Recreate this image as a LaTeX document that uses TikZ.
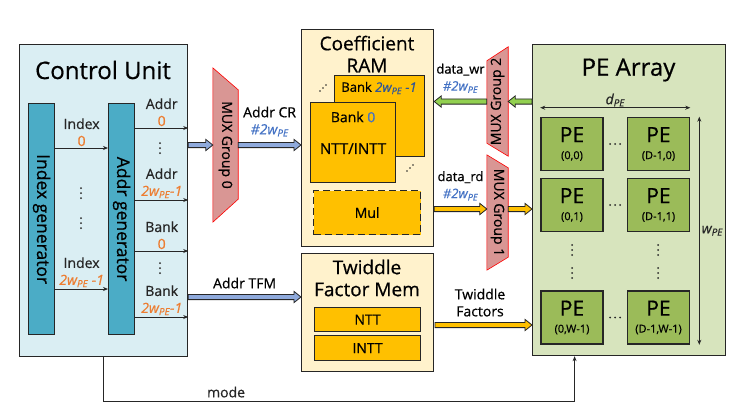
\documentclass[tikz,border=0pt]{standalone}
\usepackage{fontspec}
\setmainfont{Open Sans}[UprightFeatures={FakeBold=0.6}, ItalicFeatures={FakeBold=0.6}]
\usepackage{graphicx}
\usepackage{tikz}
\usetikzlibrary{arrows.meta,positioning,calc,backgrounds}
\definecolor{ink}{HTML}{262626}
\definecolor{cufill}{HTML}{DAEEF3}
\definecolor{genfill}{HTML}{4BACC6}
\definecolor{muxfill}{HTML}{D99694}
\definecolor{memfill}{HTML}{FFF2CC}
\definecolor{bankfill}{HTML}{FFC000}
\definecolor{peafill}{HTML}{D7E4BD}
\definecolor{pefill}{HTML}{9BBB59}
\definecolor{orn}{HTML}{ED7D31}
\definecolor{wblue}{HTML}{4472C4}
\definecolor{dblue}{HTML}{2F5597}
\definecolor{busblue}{HTML}{8FAADC}
\definecolor{busgreen}{HTML}{92D050}
\tikzset{cubox/.style={draw=ink, line width=1.2pt, fill=cufill, inner sep=0pt,
    anchor=north west},
  genbar/.style={draw=ink, line width=1.2pt, fill=genfill, inner sep=0pt,
    anchor=north west, minimum width=26pt, minimum height=231pt,
    font=\fontsize{17.5}{20}\selectfont},
  membox/.style={draw=ink, line width=1.2pt, fill=memfill, inner sep=0pt,
    anchor=north west, minimum width=132pt},
  bankbox/.style={draw=ink, line width=1.2pt, fill=bankfill, inner sep=0pt,
    anchor=north west},
  pebox/.style={draw=ink, line width=1.6pt, fill=pefill, inner sep=0pt,
    minimum width=62pt, minimum height=53pt, align=center},
  muxtxt/.style={inner sep=0pt},
  muxshape/.style={fill=muxfill, draw=red, line width=0.6pt},
  ttl/.style={font=\fontsize{24}{28}\selectfont},
  subttl/.style={font=\fontsize{19}{22}\selectfont, align=center},
  lbl/.style={midway, above, align=center, inner sep=1.5pt},
  sig/.style={line width=0.8pt, ink, -{Stealth[length=5pt, width=4pt]}}}
\newcommand\busarrow[3]{\filldraw[fill=#1, draw=ink, line width=0.8pt]
  ($(#2)+(0,2.6pt)$) -- ($(#3)!7pt!(#2)+(0,2.6pt)$)
  -- ($(#3)!7pt!(#2)+(0,5.6pt)$) -- (#3)
  -- ($(#3)!7pt!(#2)+(0,-5.6pt)$) -- ($(#3)!7pt!(#2)+(0,-2.6pt)$)
  -- ($(#2)+(0,-2.6pt)$) -- cycle;}

\begin{document}
\begin{tikzpicture}[x=1pt, y=-1pt, font=\fontsize{14}{17}\selectfont]
\useasboundingbox (0,0) rectangle (749,416);
\node[cubox, minimum width=168pt, minimum height=312pt] (cu) at (19,44) {};
\node[ttl] at (103,70) {Control Unit};
\node[genbar] (idxgen) at (28,103) {\rotatebox{-90}{Index generator}};
\node[genbar] (addrgen) at (108,103) {\rotatebox{-90}{Addr generator}};
\foreach \yy/\ix in {148/0, 289/{\textit{2w\textsubscript{PE} -1}}}
  \draw[sig] (idxgen.east |- 0,\yy) -- (addrgen.west |- 0,\yy)
    node[lbl] {Index\\\textcolor{orn}{\ix}};
\foreach \yy/\nm/\ix in {128/Addr/0, 200/Addr/{\textit{2w\textsubscript{PE}-1}},
    251/Bank/0, 317/Bank/{\textit{2w\textsubscript{PE}-1}}}
  \draw[sig] (addrgen.east |- 0,\yy) -- (cu.east |- 0,\yy)
    node[lbl] {\nm\\\textcolor{orn}{\ix}};
\foreach \x/\y in {81/193, 81/223, 160/148, 160/268}
  \foreach \d in {-5,0,5} \fill[ink] (\x,\y+\d) circle (1pt);

\node[muxtxt, minimum width=25pt, minimum height=154pt] (mux0) at (225.5,145)
  {\rotatebox{-90}{MUX Group 0}};
\node[muxtxt, minimum width=21pt, minimum height=109pt] (mux2) at (497.5,101.5)
  {\rotatebox{90}{MUX Group 2}};
\node[muxtxt, minimum width=21pt, minimum height=115pt] (mux1) at (497.5,212.5)
  {\rotatebox{-90}{MUX Group 1}};
\begin{scope}[on background layer]
\filldraw[muxshape] (mux0.north west) -- ([yshift=-22pt]mux0.north east)
  -- ([yshift=23pt]mux0.south east) -- (mux0.south west) -- cycle;
\filldraw[muxshape] ([yshift=-14pt]mux2.north west) -- (mux2.north east)
  -- (mux2.south east) -- ([yshift=13pt]mux2.south west) -- cycle;
\filldraw[muxshape] (mux1.north west) -- ([yshift=-13pt]mux1.north east)
  -- ([yshift=13pt]mux1.south east) -- (mux1.south west) -- cycle;
\end{scope}

\node[membox, minimum height=217pt] (ram) at (301,29) {};
\node[subttl] at (367,54) {Coefficient\\RAM};
\node[bankbox, minimum width=90pt, minimum height=81pt] (bankn) at (334,75) {};
\node[font=\fontsize{13}{16}\selectfont] at (379,88)
  {Bank \textcolor{dblue}{\textit{2w\textsubscript{PE} -1}}};
\node[bankbox, minimum width=85pt, minimum height=80pt] (bank0) at (310,102) {};
\node[below=6pt of bank0.north] {Bank \textcolor{wblue}{0}};
\node[font=\fontsize{15}{18}\selectfont] at ([yshift=-6pt]bank0.center) {NTT/INTT};
\foreach \x/\y in {323/88, 410/168}
  \foreach \d in {-3,0,3} \fill[ink] (\x+\d,\y-\d) circle (0.9pt);
\node[bankbox, dash pattern=on 7pt off 4pt, minimum width=107pt,
  minimum height=44pt] (mul) at (313,190) {};
\node at (mul.center) {Mul};
\node[membox, minimum height=118pt] (tfm) at (301,253) {};
\node[subttl] at (367,278) {Twiddle\\Factor Mem};
\node[bankbox, minimum width=106pt, minimum height=24pt] (ntt) at (314,307) {};
\node at (ntt.center) {NTT};
\node[bankbox, minimum width=106pt, minimum height=25pt] (intt) at (314,335) {};
\node at (intt.center) {INTT};

\node[cubox, fill=peafill, minimum width=193pt, minimum height=311pt] (pea)
  at (532,44) {};
\node[ttl] at (628.5,70) {PE Array};
\foreach \c/\cx/\cl in {0/572/0, 1/658.5/D-1}
  \foreach \r/\ry/\rl in {0/144/0, 1/205/1, w/317.5/W-1}
    \node[pebox] (pe\c\r) at (\cx,\ry) {{\fontsize{21}{22}\selectfont PE}\\
      {\fontsize{11}{13}\selectfont(\cl,\rl)}};
\foreach \x/\y in {572/250, 572/273, 658/250, 658/273}
  \foreach \d in {-5,0,5} \fill[ink] (\x,\y+\d) circle (1pt);
\foreach \y in {144,205,317.5}
  \foreach \d in {-5,0,5} \fill[ink] (615+\d,\y) circle (1pt);
\draw[line width=0.8pt, ink, {Stealth[length=5pt, width=4pt]}-{Stealth[length=5pt, width=4pt]}]
  ([yshift=9pt]pe00.north west) -- ([yshift=9pt]pe10.north east)
  node[midway, above, inner sep=1pt] {\textit{d\textsubscript{PE}}};
\draw[line width=0.8pt, ink, {Stealth[length=5pt, width=4pt]}-{Stealth[length=5pt, width=4pt]}]
  ([xshift=9pt]pe10.north east) -- ([xshift=9pt]pe1w.south east)
  node[midway, right, inner sep=2pt] {\textit{w\textsubscript{PE}}};

\busarrow{busblue}{cu.east |- mux0.west}{mux0.west}
\busarrow{busblue}{mux0.east}{ram.west |- mux0.east}
\node[above=5pt, align=center] at ($(mux0.east)!0.5!(ram.west |- mux0.east)$)
  {Addr CR\\\textcolor{wblue}{\textit{\#2w\textsubscript{PE}}}};
\busarrow{busblue}{cu.east |- 0,297}{tfm.west |- 0,297}
\node[above=5pt] at ($(cu.east |- 0,297)!0.5!(tfm.west |- 0,297)$) {Addr TFM};
\busarrow{busgreen}{pea.west |- mux2.east}{mux2.east}
\busarrow{busgreen}{mux2.west}{ram.east |- mux2.west}
\node[above=5pt, align=center, font=\fontsize{13}{17}\selectfont]
  at ($(mux2.west)!0.5!(ram.east |- mux2.west)$)
  {data\_wr\\\textcolor{wblue}{\textit{\#2w\textsubscript{PE}}}};
\busarrow{bankfill}{ram.east |- 0,209}{mux1.west |- 0,209}
\busarrow{bankfill}{mux1.east |- 0,209}{pea.west |- 0,209}
\node[above=5pt, align=center, font=\fontsize{13}{17}\selectfont]
  at ($(ram.east |- 0,209)!0.5!(mux1.west |- 0,209)$)
  {data\_rd\\\textcolor{wblue}{\textit{\#2w\textsubscript{PE}}}};
\busarrow{bankfill}{435,325}{pea.west |- 0,325}
\node[above=5pt, align=center] at (480,325) {Twiddle\\Factors};

\draw[sig] (cu.south) -- ++(0,44) -| ([xshift=-54.5pt]pea.south)
  node[pos=0.13, above] {mode};
\end{tikzpicture}
\end{document}
